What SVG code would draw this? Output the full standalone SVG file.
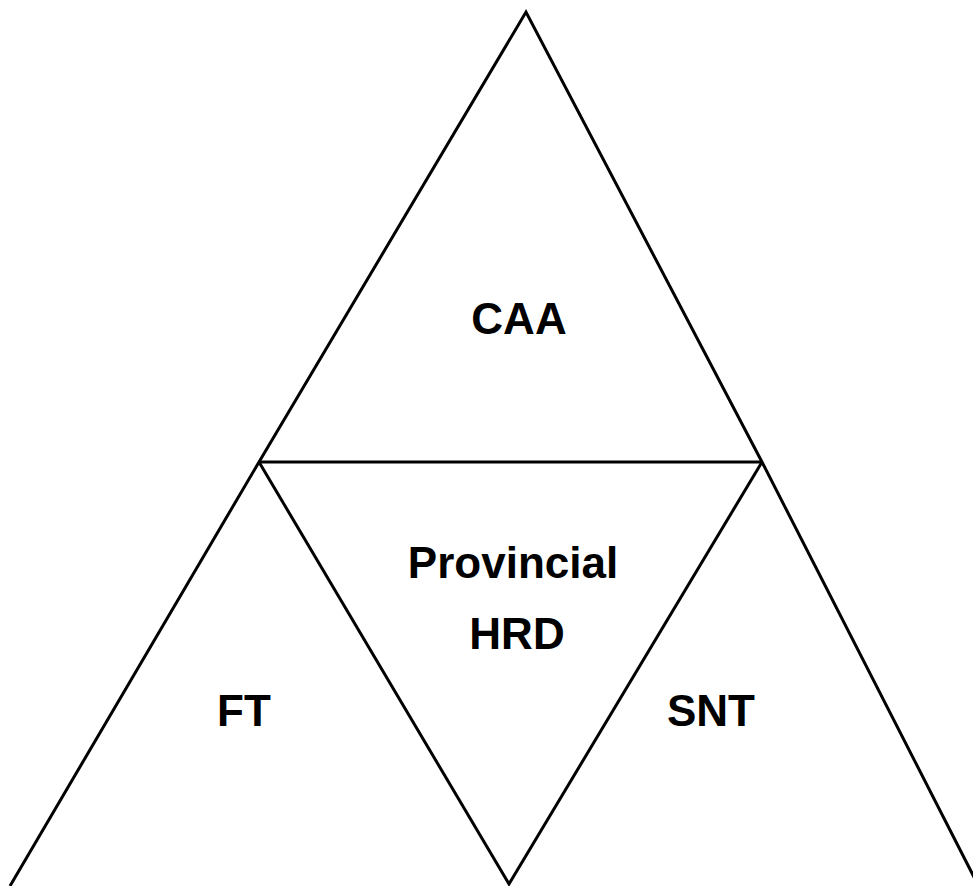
<svg xmlns="http://www.w3.org/2000/svg" width="973" height="886" viewBox="0 0 973 886">
<style>
.ln{fill:none;stroke:#000;stroke-width:3;stroke-linejoin:miter;stroke-linecap:butt}
.t{font-family:"Liberation Sans",Arial,sans-serif;font-weight:bold;font-size:44px;fill:#000;text-anchor:middle}
</style>
<rect width="973" height="886" fill="#fff"/>
<g id="connectors">
<polyline class="ln" points="10,886 259,462 526,12 762,462 975,879"/>
<line class="ln" x1="259" y1="462" x2="762" y2="462"/>
<polyline class="ln" points="259,462 509,884 762,462"/>
</g>
<g id="caa"><text class="t" x="519" y="334">CAA</text></g>
<g id="provincial-hrd"><text class="t" x="513" y="578">Provincial</text><text class="t" x="517" y="649">HRD</text></g>
<g id="ft"><text class="t" x="244" y="726">FT</text></g>
<g id="snt"><text class="t" x="711" y="726">SNT</text></g>
</svg>
